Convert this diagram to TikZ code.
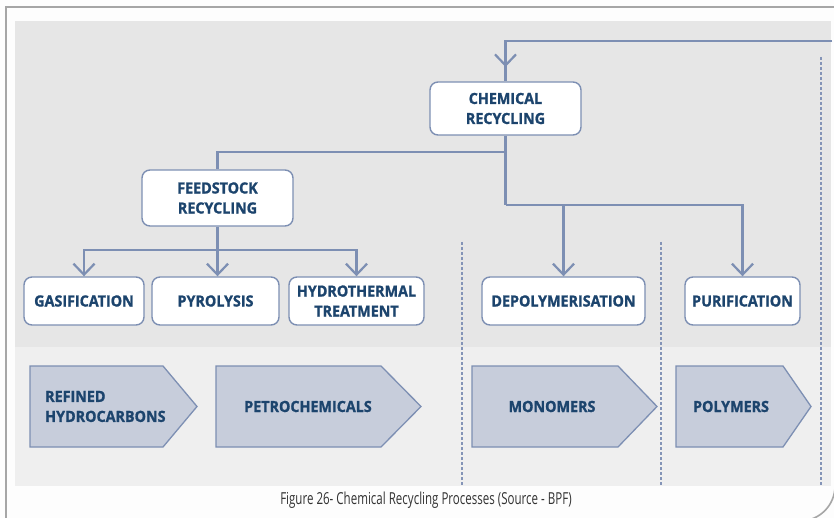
\documentclass[tikz,border=0pt]{standalone}
\usepackage{fontspec}
\setmainfont{Open Sans}
\newfontfamily\lblfont{Open Sans}[FakeStretch=0.93, BoldFeatures={FakeBold=1.2}]
\newfontfamily\capfont{Open Sans}[FakeStretch=0.70]
\usetikzlibrary{arrows.meta}

\definecolor{frameGray}{HTML}{A6A6A6}
\definecolor{pageBg}{HTML}{FDFDFD}
\definecolor{panelTop}{HTML}{E6E6E6}
\definecolor{panelLow}{HTML}{EFEFEF}
\definecolor{lineBlue}{HTML}{7D8FB3}
\definecolor{dashBlue}{HTML}{8494B7}
\definecolor{textNavy}{HTML}{1C446D}
\definecolor{chevFill}{HTML}{C7CDDB}
\definecolor{capGray}{HTML}{333333}

\tikzset{
  procbox/.style={draw=lineBlue, line width=1.4pt, fill=white,
    rounded corners=8pt, align=center, inner sep=0pt,
    text=textNavy, font={\lblfont\bfseries\fontsize{15.4}{20}\selectfont}},
  link/.style={draw=lineBlue, line width=2.5pt},
  tip/.style={-{Straight Barb[length=11pt,width=21pt,line width=2.2pt]}},
  sep/.style={draw=dashBlue, line width=1.5pt, dash pattern=on 3pt off 2pt},
  chevron/.style={draw=lineBlue, line width=1.3pt, fill=chevFill},
  chevtext/.style={text=textNavy, inner sep=0pt,
    font={\lblfont\bfseries\fontsize{15.4}{20}\selectfont}},
  frameline/.style={draw=frameGray, line width=1.6pt}
}

% pentagon arrow: left x, start of point x, tip x
\newcommand{\chevshape}[3]{%
  \path[chevron] (#1,366) -- (#2,366) -- (#3,406.5) -- (#2,447) -- (#1,447) -- cycle;}

\begin{document}
\begin{tikzpicture}[x=1pt, y=-1pt]
\useasboundingbox (0,0) rectangle (834,518);
\fill[pageBg] (0,0) rectangle (834,518);

% outer frame
\draw[frameline] (840,7) -- (6,7) -- (6,525);
\draw[frameline, rounded corners=35pt] (835,420) -- (835,521) -- (700,521);

% background panels
\fill[panelTop] (15,21) rectangle (831,347);
\fill[panelLow] (15,347) rectangle (831,486);

% column separators
\draw[sep] (462,242) -- (462,486);
\draw[sep] (661,242) -- (661,486);
\draw[sep] (821,57) -- (821,486);

% process boxes
\node[procbox, minimum width=151pt, minimum height=53pt] (chem) at (505.5,108.5) {CHEMICAL\\RECYCLING};
\node[procbox, minimum width=151pt, minimum height=56pt] (feed) at (217.5,198) {FEEDSTOCK\\RECYCLING};
\node[procbox, minimum width=120pt, minimum height=48pt] (gas) at (84,301) {GASIFICATION};
\node[procbox, minimum width=127pt, minimum height=48pt] (pyro) at (215.5,301) {PYROLYSIS};
\node[procbox, minimum width=135pt, minimum height=48pt] (hydro) at (356.5,301) {HYDROTHERMAL\\TREATMENT};
\node[procbox, minimum width=163pt, minimum height=48pt] (depol) at (563.5,301) {DEPOLYMERISATION};
\node[procbox, minimum width=115pt, minimum height=48pt] (purif) at (742.5,301) {PURIFICATION};

% junction points
\coordinate (loopR) at (832,41);
\coordinate (loopC) at (505.5,41);
\coordinate (loopTip) at (505.5,67);
\coordinate (splitA) at (505.5,152);
\coordinate (splitB) at (505.5,205);
\coordinate (feedBus) at (217.5,250);

% feedback loop into chemical recycling
\draw[link] (loopR) -- (loopC) -- (chem.north);
\draw[link, tip] (loopC) -- (loopTip);

% trunk
\draw[link] (chem.south) -- (splitB);
\draw[link] (splitA) -| (feed.north);
\draw[link, tip] (splitB) -| (depol.north);
\draw[link, tip] (splitB) -| (purif.north);

% feedstock branches
\draw[link] (feed.south) -- (feedBus);
\draw[link, tip] (feedBus) -| (gas.north);
\draw[link, tip] (feedBus) -- (pyro.north -| feedBus);
\draw[link, tip] (feedBus) -| (hydro.north);

% product arrows
\chevshape{30}{163}{197}
\chevshape{216}{381}{421}
\chevshape{472}{618}{657}
\chevshape{676}{783}{811}
\node[chevtext, anchor=west, align=left] (refined) at (45,406.5) {REFINED\\HYDROCARBONS};
\node[chevtext] (petro) at (308,406.5) {PETROCHEMICALS};
\node[chevtext] (mono) at (552,406.5) {MONOMERS};
\node[chevtext] (poly) at (731,406.5) {POLYMERS};

% caption
\node[text=capGray, font={\capfont\fontsize{16.5}{18}\selectfont}] (caption) at (426,500)
  {Figure 26- Chemical Recycling Processes (Source - BPF)};
\end{tikzpicture}
\end{document}
